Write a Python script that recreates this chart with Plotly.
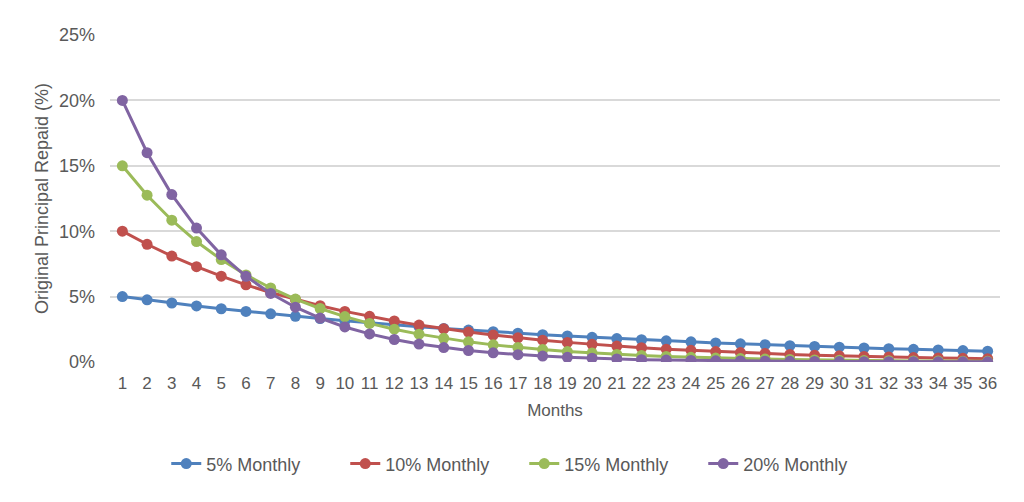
import plotly.graph_objects as go

months = list(range(1, 37))
s5 = [5.00, 4.75, 4.51, 4.29, 4.07, 3.87, 3.68, 3.49, 3.32, 3.15, 2.99, 2.84, 2.70, 2.57, 2.44, 2.32,
      2.20, 2.09, 1.99, 1.89, 1.79, 1.70, 1.62, 1.54, 1.46, 1.39, 1.32, 1.25, 1.19, 1.13, 1.07, 1.02,
      0.97, 0.92, 0.87, 0.83]
s10 = [10.0, 9.0, 8.1, 7.29, 6.56, 5.90, 5.31, 4.78, 4.30, 3.87, 3.49, 3.14, 2.82, 2.54, 2.29, 2.06,
       1.85, 1.67, 1.50, 1.35, 1.22, 1.09, 0.98, 0.89, 0.80, 0.72, 0.65, 0.58, 0.52, 0.47, 0.42, 0.38,
       0.34, 0.31, 0.28, 0.25]
s15 = [15.0, 12.75, 10.84, 9.21, 7.83, 6.66, 5.66, 4.81, 4.09, 3.47, 2.95, 2.51, 2.13, 1.81, 1.54, 1.31,
       1.11, 0.95, 0.80, 0.68, 0.58, 0.49, 0.42, 0.36, 0.30, 0.26, 0.22, 0.19, 0.16, 0.13, 0.11, 0.10,
       0.08, 0.07, 0.06, 0.05]
s20 = [20.0, 16.0, 12.8, 10.24, 8.19, 6.55, 5.24, 4.19, 3.36, 2.68, 2.15, 1.72, 1.37, 1.10, 0.88, 0.70,
       0.56, 0.45, 0.36, 0.29, 0.23, 0.18, 0.15, 0.12, 0.09, 0.08, 0.06, 0.05, 0.04, 0.03, 0.02, 0.02,
       0.02, 0.01, 0.01, 0.01]

series = [("5% Monthly", s5, "#4F81BD"), ("10% Monthly", s10, "#C0504D"),
          ("15% Monthly", s15, "#9BBB59"), ("20% Monthly", s20, "#8064A2")]

fig = go.Figure()
for name, vals, col in series:
    fig.add_trace(go.Scatter(x=months, y=vals, name=name, mode="lines+markers",
                             line=dict(color=col, width=3),
                             marker=dict(color=col, size=11)))

fam = "Liberation Sans, Arial, sans-serif"
font = dict(family=fam, size=17, color="#595959")
font18 = dict(family=fam, size=18, color="#595959")
fig.update_layout(
    width=1008, height=486,
    margin=dict(l=102, r=16, t=27, b=132),
    paper_bgcolor="white", plot_bgcolor="white",
    font=font,
    xaxis=dict(range=[0.5, 36.5], tickmode="array", tickvals=months, ticktext=[str(m) for m in months],
               showgrid=False, zeroline=False, showline=False, ticks="",
               ticklabelstandoff=9,
               title=dict(text="Months", font=font, standoff=12)),
    yaxis=dict(range=[0, 25], tickvals=[0, 5, 10, 15, 20, 25], ticktext=["0%", "5%", "10%", "15%", "20%", "25%"],
               showgrid=True, gridcolor="#D9D9D9", gridwidth=1.5, zeroline=False, showline=False, ticks="",
               ticklabelstandoff=14, tickfont=font18,
               title=dict(text="Original Principal Repaid (%)", font=font18, standoff=5)),
    legend=dict(orientation="h", xref="container", yref="container",
                x=0.157, xanchor="left", y=0.062, yanchor="middle",
                font=font18, entrywidth=134, entrywidthmode="pixels", tracegroupgap=0),
)
fig.update_xaxes(automargin=False)
fig.update_yaxes(automargin=False)
fig.write_html("out.html")
